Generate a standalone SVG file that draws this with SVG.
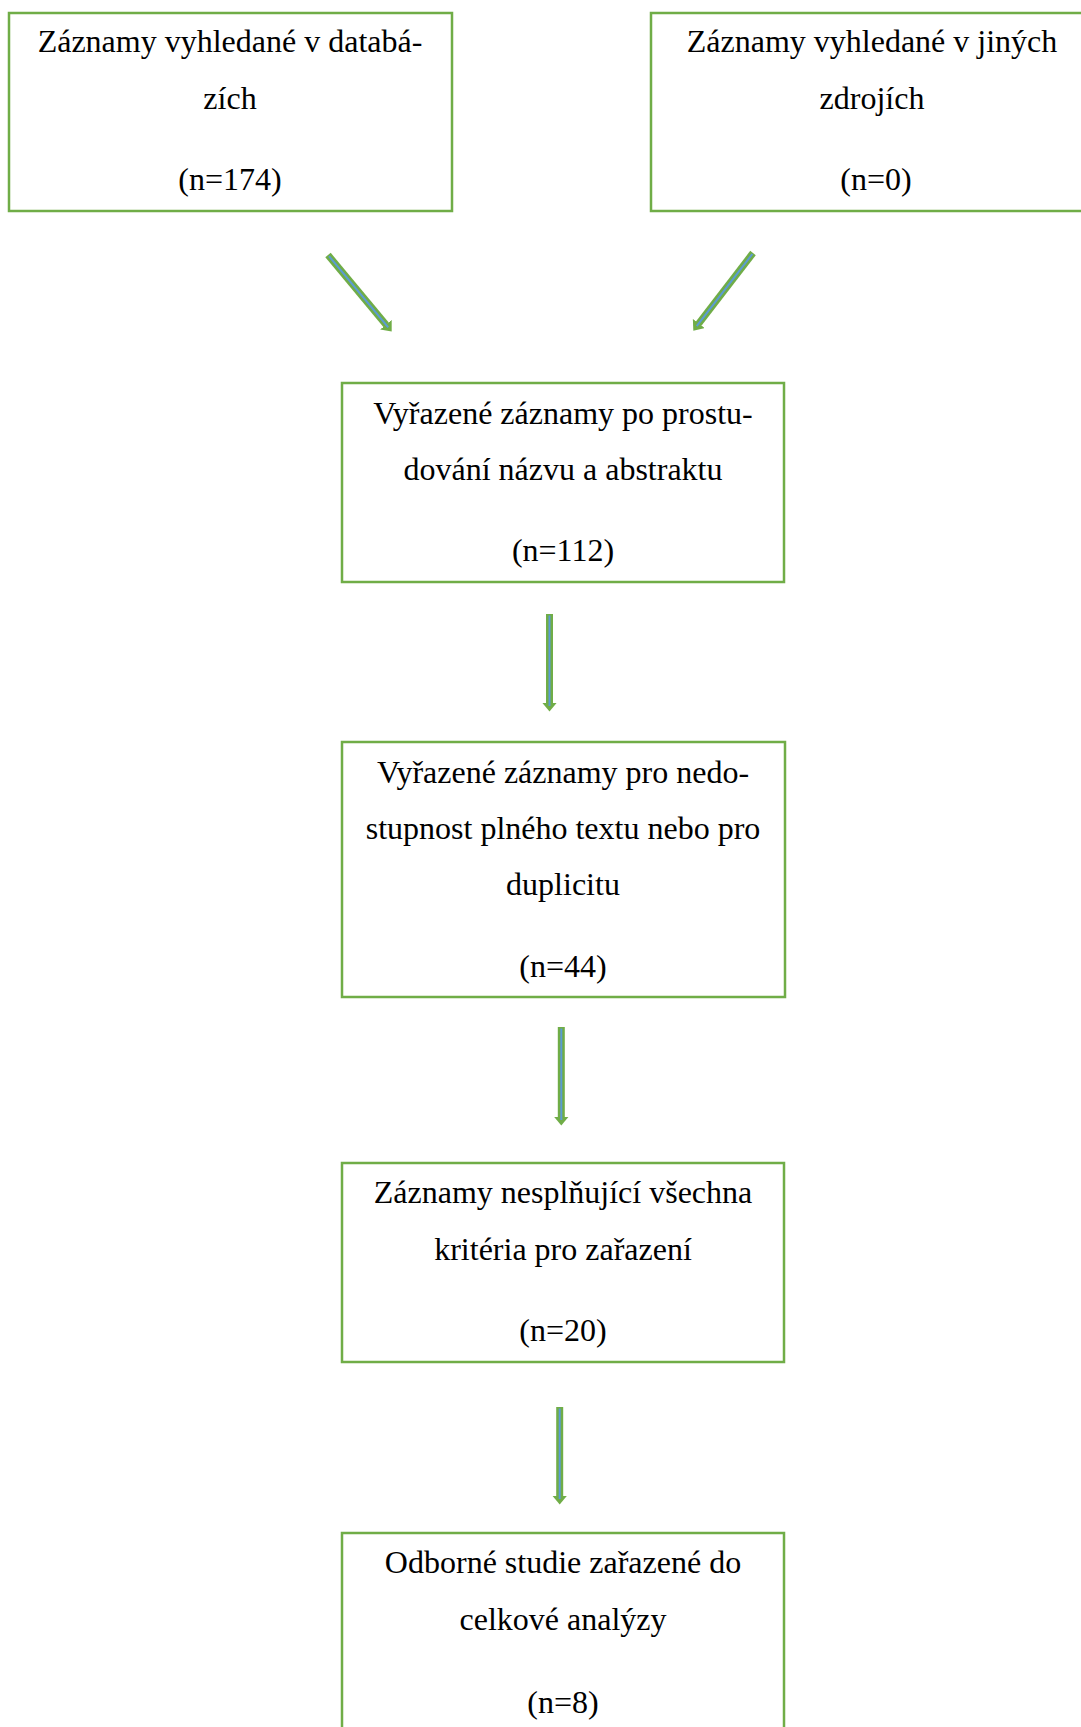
<svg xmlns="http://www.w3.org/2000/svg" width="1081" height="1727" viewBox="0 0 1081 1727">
<style>
.box{fill:#fff;stroke:#70AD47;stroke-width:2.5}
.t{font-family:"Liberation Serif","Times New Roman",serif;font-size:32px;fill:#000;text-anchor:middle}
.sh{stroke:#70AD47;stroke-width:7;fill:none}
.in{stroke:#5B9BD5;stroke-width:2;fill:none}
</style>
<defs>
<marker id="ah" markerUnits="userSpaceOnUse" markerWidth="10" markerHeight="16" refX="0.5" refY="7.5" orient="auto" viewBox="0 0 10 16">
<path d="M0,0 L9,7.5 L0,15 z" fill="#70AD47"/>
</marker>
</defs>
<rect width="1081" height="1727" fill="#fff"/>
<g id="n1">
<rect class="box" x="9" y="13" width="443" height="198"/>
<text class="t" x="230" y="52">Záznamy vyhledané v databá-</text>
<text class="t" x="230" y="109">zích</text>
<text class="t" x="230" y="190">(n=174)</text>
</g>
<g id="n2">
<rect class="box" x="651" y="13" width="443" height="198"/>
<text class="t" x="872" y="52">Záznamy vyhledané v jiných</text>
<text class="t" x="872" y="109">zdrojích</text>
<text class="t" x="876" y="190">(n=0)</text>
</g>
<g id="n3">
<rect class="box" x="342" y="383" width="442" height="199"/>
<text class="t" x="563" y="424">Vyřazené záznamy po prostu-</text>
<text class="t" x="563" y="480">dování názvu a abstraktu</text>
<text class="t" x="563" y="561">(n=112)</text>
</g>
<g id="n4">
<rect class="box" x="342" y="742" width="443" height="255"/>
<text class="t" x="563" y="783">Vyřazené záznamy pro nedo-</text>
<text class="t" x="563" y="839">stupnost plného textu nebo pro</text>
<text class="t" x="563" y="895">duplicitu</text>
<text class="t" x="563" y="977">(n=44)</text>
</g>
<g id="n5">
<rect class="box" x="342" y="1163" width="442" height="199"/>
<text class="t" x="563" y="1203">Záznamy nesplňující všechna</text>
<text class="t" x="563" y="1260">kritéria pro zařazení</text>
<text class="t" x="563" y="1341">(n=20)</text>
</g>
<g id="n6">
<rect class="box" x="342" y="1533" width="442" height="220"/>
<text class="t" x="563" y="1573">Odborné studie zařazené do</text>
<text class="t" x="563" y="1630">celkové analýzy</text>
<text class="t" x="563" y="1713">(n=8)</text>
</g>
<g id="connectors">
<line class="sh" x1="328" y1="255" x2="386.25" y2="325.08" marker-end="url(#ah)"/>
<line class="in" x1="329" y1="256.2" x2="388.2" y2="327.4"/>
<line class="sh" x1="753" y1="253" x2="698.5" y2="323.9" marker-end="url(#ah)"/>
<line class="in" x1="752.4" y1="254" x2="696.7" y2="326.2"/>
<line class="sh" x1="549.5" y1="614" x2="549.5" y2="703" marker-end="url(#ah)"/>
<line class="in" x1="549.5" y1="615.5" x2="549.5" y2="706"/>
<line class="sh" x1="561.3" y1="1027" x2="561.3" y2="1117" marker-end="url(#ah)"/>
<line class="in" x1="561.3" y1="1028.5" x2="561.3" y2="1120"/>
<line class="sh" x1="559.7" y1="1407" x2="559.7" y2="1496" marker-end="url(#ah)"/>
<line class="in" x1="559.7" y1="1408.5" x2="559.7" y2="1499"/>
</g>
</svg>
